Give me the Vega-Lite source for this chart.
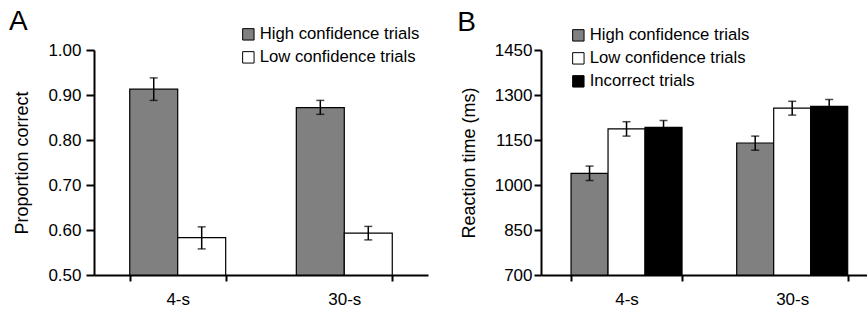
{
  "$schema": "https://vega.github.io/schema/vega-lite/v6.json",
  "padding": {"left": 8, "top": 8, "right": 0, "bottom": 0},
  "spacing": 29,
  "config": {
    "font": "Liberation Sans",
    "view": {"stroke": null},
    "axis": {
      "domainColor": "black", "domainWidth": 2, "tickColor": "black", "tickWidth": 2,
      "labelColor": "#000", "titleColor": "#000", "labelFontSize": 17, "titleFontSize": 18,
      "titleFontWeight": "normal", "grid": false, "labelFont": "Liberation Sans", "titleFont": "Liberation Sans"
    },
    "legend": {
      "orient": "none", "title": null, "symbolType": "square", "symbolSize": 130,
      "symbolStrokeColor": "black", "symbolStrokeWidth": 1, "labelFontSize": 16.7,
      "labelColor": "#000", "labelOffset": 3, "rowPadding": 5, "padding": 0, "labelLimit": 300,
      "labelFont": "Liberation Sans"
    },
    "title": {"fontSize": 28, "fontWeight": "normal", "anchor": "start", "frame": "bounds", "color": "black", "font": "Liberation Sans"}
  },
  "hconcat": [
    {
      "width": 334,
      "height": 225,
      "title": {"text": "A", "dx": -5, "offset": -10},
      "data": {"values": [
        {"delay": "4-s", "trial": "High confidence trials", "value": 0.913, "lo": 0.888, "hi": 0.938},
        {"delay": "4-s", "trial": "Low confidence trials", "value": 0.583, "lo": 0.558, "hi": 0.607},
        {"delay": "30-s", "trial": "High confidence trials", "value": 0.872, "lo": 0.857, "hi": 0.888},
        {"delay": "30-s", "trial": "Low confidence trials", "value": 0.593, "lo": 0.578, "hi": 0.608}
      ]},
      "encoding": {
        "x": {"field": "delay", "type": "nominal", "sort": ["4-s", "30-s"],
              "scale": {"paddingInner": 0.424, "paddingOuter": 0.2145},
              "axis": {"title": null, "labelAngle": 0, "tickBand": "extent", "tickSize": 6, "labelPadding": 10}},
        "xOffset": {"field": "trial", "type": "nominal", "sort": ["High confidence trials", "Low confidence trials"],
                    "scale": {"paddingInner": 0, "paddingOuter": 0}}
      },
      "layer": [
        {
          "mark": {"type": "bar", "stroke": "black", "strokeWidth": 1.2},
          "encoding": {
            "y": {"field": "value", "type": "quantitative",
                  "scale": {"domain": [0.5, 1.0], "zero": false, "nice": false},
                  "axis": {"title": "Proportion correct", "values": [0.5, 0.6, 0.7, 0.8, 0.9, 1.0], "format": ".2f",
                           "tickSize": 8, "labelPadding": 5, "titlePadding": 16}},
            "y2": {"datum": 0.5},
            "color": {"field": "trial", "type": "nominal",
                      "scale": {"domain": ["High confidence trials", "Low confidence trials"], "range": ["#808080", "#ffffff"]},
                      "legend": {"legendX": 146, "legendY": -24}}
          }
        },
        {
          "mark": {"type": "rule", "color": "black", "strokeWidth": 1.5},
          "encoding": {"y": {"field": "lo", "type": "quantitative"}, "y2": {"field": "hi"}}
        },
        {
          "mark": {"type": "tick", "color": "black", "size": 8, "thickness": 1.5},
          "encoding": {"y": {"field": "hi", "type": "quantitative"}}
        },
        {
          "mark": {"type": "tick", "color": "black", "size": 8, "thickness": 1.5},
          "encoding": {"y": {"field": "lo", "type": "quantitative"}}
        }
      ]
    },
    {
      "width": 328,
      "height": 225,
      "title": {"text": "B", "dx": -3, "offset": -10},
      "data": {"values": [
        {"delay": "4-s", "trial": "High confidence trials", "value": 1039, "lo": 1015, "hi": 1063},
        {"delay": "4-s", "trial": "Low confidence trials", "value": 1187, "lo": 1163, "hi": 1211},
        {"delay": "4-s", "trial": "Incorrect trials", "value": 1192, "lo": 1169, "hi": 1215},
        {"delay": "30-s", "trial": "High confidence trials", "value": 1140, "lo": 1116, "hi": 1163},
        {"delay": "30-s", "trial": "Low confidence trials", "value": 1256, "lo": 1233, "hi": 1279},
        {"delay": "30-s", "trial": "Incorrect trials", "value": 1262, "lo": 1238, "hi": 1285}
      ]},
      "encoding": {
        "x": {"field": "delay", "type": "nominal", "sort": ["4-s", "30-s"],
              "scale": {"paddingInner": 0.33, "paddingOuter": 0.155, "align": 0.585},
              "axis": {"title": null, "labelAngle": 0, "tickBand": "extent", "tickSize": 6, "labelPadding": 10}},
        "xOffset": {"field": "trial", "type": "nominal", "sort": ["High confidence trials", "Low confidence trials", "Incorrect trials"],
                    "scale": {"paddingInner": 0, "paddingOuter": 0}}
      },
      "layer": [
        {
          "mark": {"type": "bar", "stroke": "black", "strokeWidth": 1.2},
          "encoding": {
            "y": {"field": "value", "type": "quantitative",
                  "scale": {"domain": [700, 1450], "zero": false, "nice": false},
                  "axis": {"title": "Reaction time (ms)", "values": [700, 850, 1000, 1150, 1300, 1450], "format": "d",
                           "tickSize": 7, "labelPadding": 2, "titlePadding": 16}},
            "y2": {"datum": 700},
            "color": {"field": "trial", "type": "nominal",
                      "scale": {"domain": ["High confidence trials", "Low confidence trials", "Incorrect trials"], "range": ["#808080", "#ffffff", "#000000"]},
                      "legend": {"legendX": 29, "legendY": -23}}
          }
        },
        {
          "mark": {"type": "rule", "color": "black", "strokeWidth": 1.5},
          "encoding": {"y": {"field": "lo", "type": "quantitative"}, "y2": {"field": "hi"}}
        },
        {
          "mark": {"type": "tick", "color": "black", "size": 8, "thickness": 1.5},
          "encoding": {"y": {"field": "hi", "type": "quantitative"}}
        },
        {
          "mark": {"type": "tick", "color": "black", "size": 8, "thickness": 1.5},
          "encoding": {"y": {"field": "lo", "type": "quantitative"}}
        }
      ],
      "resolve": {"scale": {"color": "independent"}}
    }
  ],
  "resolve": {"scale": {"color": "independent", "x": "independent", "y": "independent", "xOffset": "independent"}}
}
